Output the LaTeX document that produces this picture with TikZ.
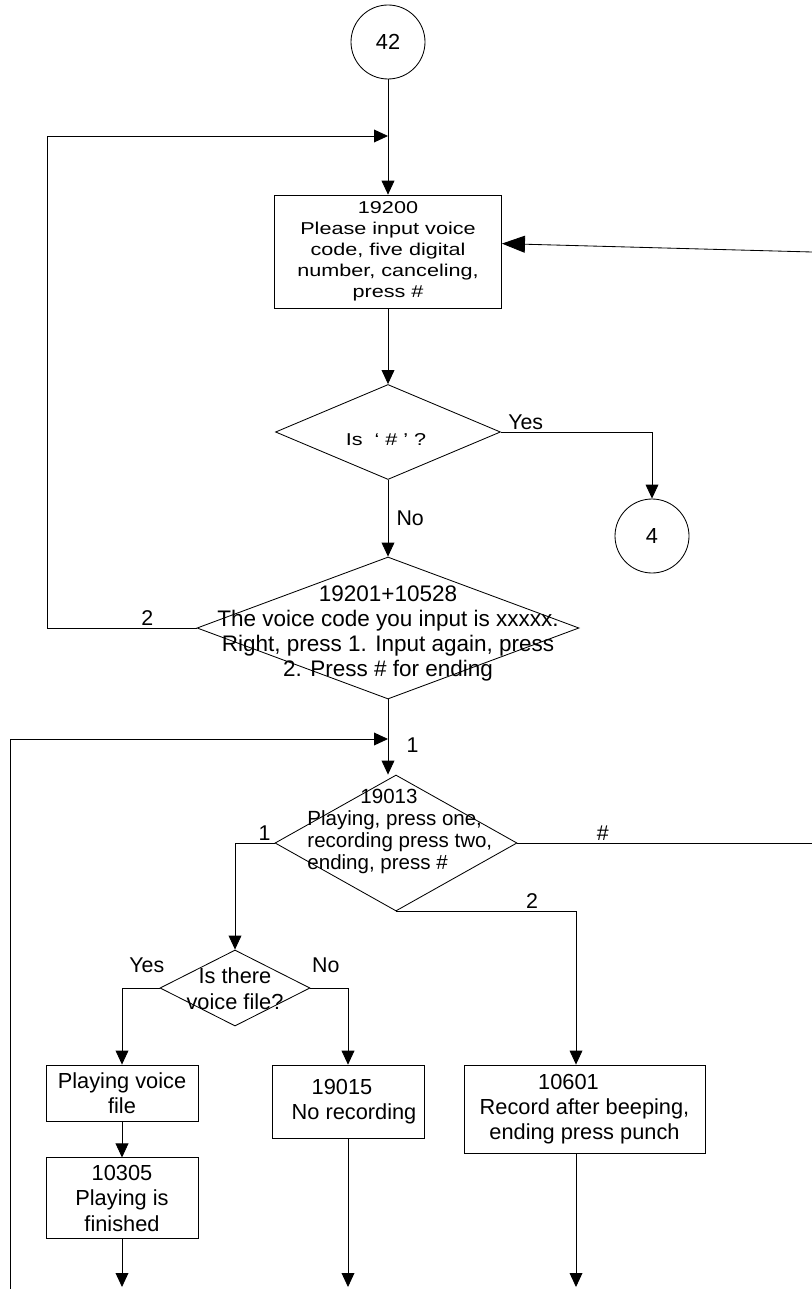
\documentclass[tikz,border=0pt]{standalone}
\usepackage{fontspec}
\setmainfont{Liberation Sans}
\newfontfamily\squatfont[FakeStretch=1.26]{Liberation Sans}
\usetikzlibrary{positioning, arrows.meta, shapes.geometric}

\begin{document}
\begin{tikzpicture}[
  line width=0.6pt,
  >={Triangle[length=0.35cm, width=0.32cm]},
  procbox/.style={draw, rectangle, align=center, inner sep=0pt,
                  font=\fontsize{15.5}{18}\selectfont},
  decision/.style={draw, diamond, inner sep=0pt},
  onpage/.style={draw, circle, minimum size=1.85cm, inner sep=0pt,
                 font=\fontsize{15.5}{18}\selectfont},
  txt/.style={inner sep=0pt, align=center},
  lbl/.style={inner sep=1.5pt, font=\fontsize{15.2}{18}\selectfont},
]
  \useasboundingbox (0,0) rectangle (20.3,-32.225);

  \node[onpage] (c42) at (9.7,-1.05) {42};
  \node[procbox, minimum width=5.675cm, minimum height=2.825cm,
        font=\squatfont\fontsize{12.2}{15}\selectfont] (req) at (9.7,-6.29)
    {19200\\Please input voice\\code, five digital\\number, canceling,\\press \#};
  \node[decision, minimum width=5.625cm, minimum height=2.375cm] (ishash) at (9.7,-10.8) {};
  \node[txt, font=\squatfont\fontsize{12.2}{15}\selectfont] (ishashtx) at (9.65,-11.0)
    {Is\ \ ‘ \# ’ ?};
  \node[onpage] (c4) at (16.3,-13.4) {4};
  \node[decision, minimum width=9.55cm, minimum height=3.55cm] (confirm) at (9.7,-15.7) {};
  \node[txt, font=\fontsize{16}{17.8}\selectfont] (confirmtx) at (9.7,-15.84)
    {19201+10528\\The voice code you input is xxxxx.\\Right, press 1. Input again, press\\2. Press \# for ending};
  \node[decision, minimum width=6.05cm, minimum height=3.4cm] (menu) at (9.9,-21.075) {};
  \node[txt, align=left, anchor=west, font=\fontsize{14.6}{15.6}\selectfont] (menutx) at (7.675,-20.79)
    {\hspace*{1.325cm}19013\\Playing, press one,\\recording press two,\\ending, press \#};
  \node[decision, minimum width=3.75cm, minimum height=1.9cm] (hasfile) at (5.875,-24.7) {};
  \node[txt, font=\fontsize{15.5}{18.5}\selectfont] (hasfiletx) at (5.875,-24.725)
    {Is there\\voice file?};
  \node[procbox, minimum width=3.8cm, minimum height=1.4cm] (play) at (3.05,-27.325)
    {Playing voice\\file};
  \node[procbox, minimum width=3.8cm, minimum height=2.025cm] (done) at (3.05,-29.96)
    {10305\\Playing is\\finished};
  \node[procbox, minimum width=3.8cm, minimum height=1.825cm] (norec) at (8.7,-27.54)
    {19015\hspace*{0.3cm}\\\hspace*{0.3cm}No recording};
  \node[procbox, minimum width=6.025cm, minimum height=2.2cm] (rec) at (14.6125,-27.725)
    {10601\hspace*{0.8cm}\\Record after beeping,\\ending press punch};

  \coordinate (j1) at (9.7,-3.4);
  \coordinate (lp1) at (1.175,-3.4);
  \coordinate (j2) at (9.7,-18.475);
  \coordinate (lp2) at (0.25,-32.225);
  \coordinate (rt1) at (20.3,-21.0);
  \coordinate (rt2) at (20.3,-6.3);
  \coordinate (e1) at (3.05,-32.175);
  \coordinate (e2) at (8.7,-32.175);
  \coordinate (e3) at (14.4,-32.175);

  \draw[->] (c42) -- (req);
  \draw[->] (confirm.west) -- node[lbl, above, pos=0.33] (l2) {2} (confirm.west -| lp1) -- (lp1) -- (j1);
  \draw[->] (req) -- (ishash);
  \draw[->] (ishash.east) -| node[lbl, above, pos=0.082] (lyes) {Yes} (c4.north);
  \draw[->] (ishash.south) -- node[lbl, right=0.15cm] (lno) {No} (confirm.north);
  \draw[->] (confirm.south) -- node[lbl, right=0.4cm, pos=0.61] (l1) {1} (confirm.south |- menu.north);
  \draw[->] (lp2) |- (j2);
  \draw[->] (menu.west) -| node[lbl, above, pos=0.125] (lm1) {1} (hasfile.north);
  \draw (menu.east) -- node[lbl, above, pos=0.29] (lhash) {\#} (menu.east -| rt1);
  \draw[->] (menu.south) -| node[lbl, above, pos=0.378] (lm2) {2} (rec.north -| e3);
  \draw[-{Triangle[length=0.575cm, width=0.425cm]}] (rt2) -- ([yshift=0.2cm]req.east);
  \draw[->] (hasfile.west) -| node[lbl, above=0.33cm, pos=0.17] (lfy) {Yes} (play.north);
  \draw[->] (hasfile.east) -| node[lbl, above=0.33cm, pos=0.205] (lfn) {No} (norec.north);
  \draw[->] (play) -- (done);
  \draw[->] (done) -- (e1);
  \draw[->] (norec) -- (e2);
  \draw[->] (rec.south -| e3) -- (e3);
\end{tikzpicture}
\end{document}
